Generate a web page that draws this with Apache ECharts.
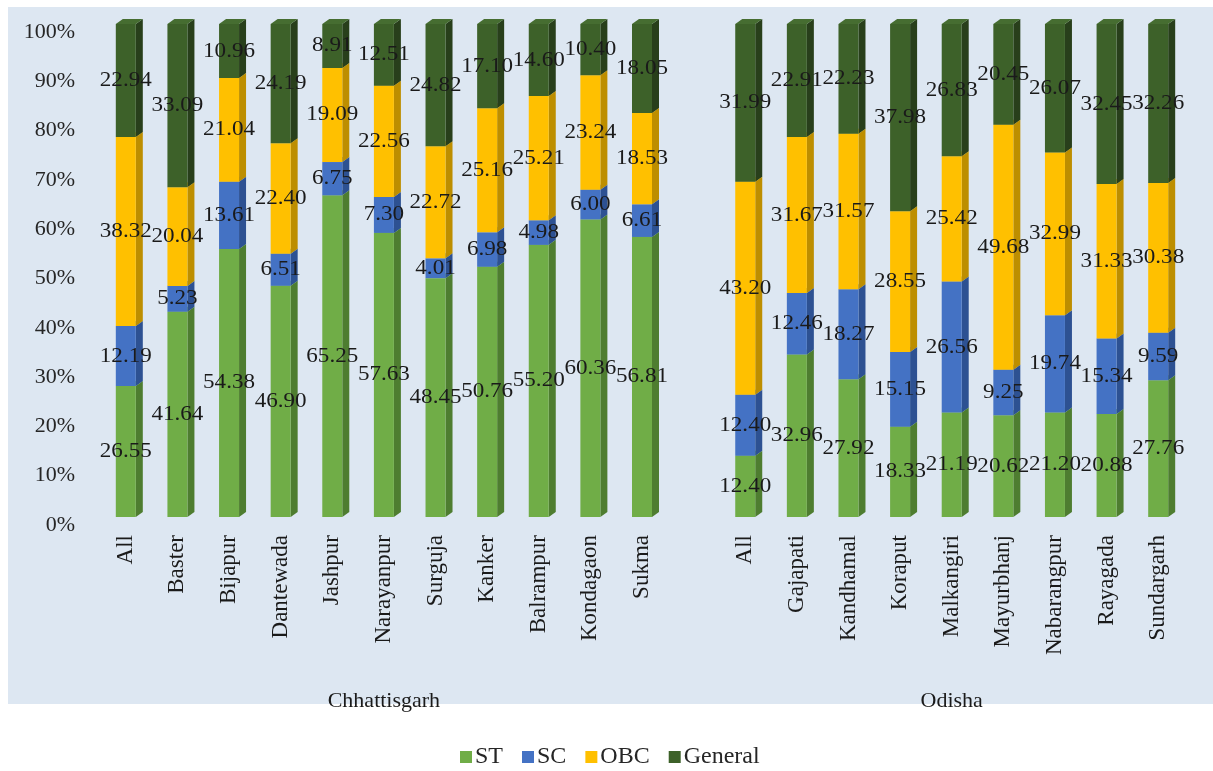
<!DOCTYPE html>
<html>
<head>
<meta charset="utf-8">
<script src="https://cdn.jsdelivr.net/npm/echarts@6/dist/echarts.min.js"></script>
<style>
  html, body { margin: 0; padding: 0; background: #fff; }
  #chart { width: 1213px; height: 771px; }
</style>
</head>
<body>
<div id="chart"></div>
<script>
// districts, with one empty slot between the two states
var districts = ['All', 'Baster', 'Bijapur', 'Dantewada', 'Jashpur', 'Narayanpur', 'Surguja', 'Kanker', 'Balrampur', 'Kondagaon', 'Sukma', '',
  'All', 'Gajapati', 'Kandhamal', 'Koraput', 'Malkangiri', 'Mayurbhanj', 'Nabarangpur', 'Rayagada', 'Sundargarh'];
var stateLabels = ['', '', '', '', '', 'Chhattisgarh', '', '', '', '', '', '',
  '', '', '', '', 'Odisha', '', '', '', ''];

var ST      = [26.55, 41.64, 54.38, 46.90, 65.25, 57.63, 48.45, 50.76, 55.20, 60.36, 56.81, null, 12.40, 32.96, 27.92, 18.33, 21.19, 20.62, 21.20, 20.88, 27.76];
var SC      = [12.19, 5.23, 13.61, 6.51, 6.75, 7.30, 4.01, 6.98, 4.98, 6.00, 6.61, null, 12.40, 12.46, 18.27, 15.15, 26.56, 9.25, 19.74, 15.34, 9.59];
var OBC     = [38.32, 20.04, 21.04, 22.40, 19.09, 22.56, 22.72, 25.16, 25.21, 23.24, 18.53, null, 43.20, 31.67, 31.57, 28.55, 25.42, 49.68, 32.99, 31.33, 30.38];
var General = [22.94, 33.09, 10.96, 24.19, 8.91, 12.51, 24.82, 17.10, 14.60, 10.40, 18.05, null, 31.99, 22.91, 22.23, 37.98, 26.83, 20.45, 26.07, 32.45, 32.26];

var seriesNames = ['ST', 'SC', 'OBC', 'General'];
var seriesValues = [ST, SC, OBC, General];

var faceColors = ['#70ad47', '#4472c4', '#ffc000', '#3d6129'];
var sideColors = ['#4e7d30', '#2d5192', '#bd8e00', '#283f1b'];
var topColors  = ['#80bb58', '#5683cf', '#ffca2b', '#466d31'];

var serif = '"Liberation Serif", "Times New Roman", serif';
var chart = echarts.init(document.getElementById('chart'));

// stack segments: [index, start, end]
function stackData(k) {
  var out = [];
  for (var i = 0; i < districts.length; i++) {
    var v = seriesValues[k][i];
    if (v == null) continue;
    var base = 0;
    for (var j = 0; j < k; j++) base += seriesValues[j][i];
    out.push([i, base, base + v]);
  }
  return out;
}

var labelData = [];
for (var k = 0; k < seriesValues.length; k++) {
  for (var i = 0; i < districts.length; i++) {
    var v = seriesValues[k][i];
    if (v == null) continue;
    var base = 0;
    for (var j = 0; j < k; j++) base += seriesValues[j][i];
    labelData.push([i, base + v / 2, v.toFixed(2)]);
  }
}

function renderBox(k) {
  return function (params, api) {
    var bot = api.coord([api.value(0), api.value(1)]);
    var top = api.coord([api.value(0), api.value(2)]);
    var half = 10, dx = 7, dy = 5;
    var l = bot[0] - half, r = bot[0] + half;
    return {
      type: 'group',
      children: [
        { type: 'polygon', shape: { points: [[r, bot[1]], [r + dx, bot[1] - dy], [r + dx, top[1] - dy], [r, top[1]]] }, style: { fill: sideColors[k] } },
        { type: 'polygon', shape: { points: [[l, top[1]], [l + dx, top[1] - dy], [r + dx, top[1] - dy], [r, top[1]]] }, style: { fill: topColors[k] } },
        { type: 'rect', shape: { x: l, y: top[1], width: r - l, height: bot[1] - top[1] }, style: { fill: faceColors[k] } }
      ]
    };
  };
}

function renderLabel(params, api) {
  var p = api.coord([api.value(0), api.value(1)]);
  return {
    type: 'text',
    x: p[0], y: p[1],
    scaleX: 1.1,
    style: {
      text: labelData[params.dataIndex][2],
      fontFamily: serif, fontSize: 21, fill: '#1a1a1a',
      align: 'center', verticalAlign: 'middle'
    }
  };
}

var series = seriesNames.map(function (name, k) {
  return {
    name: name,
    type: 'custom',
    renderItem: renderBox(k),
    itemStyle: { color: faceColors[k] },
    encode: { x: 0, y: [1, 2] },
    data: stackData(k)
  };
});
series.push({
  name: 'labels',
  type: 'custom',
  z: 10,
  silent: true,
  renderItem: renderLabel,
  encode: { x: 0, y: 1 },
  data: labelData
});

option = {
  animation: false,
  graphic: [{
    type: 'rect', z: -10, silent: true,
    shape: { x: 8, y: 7, width: 1205, height: 697 },
    style: { fill: '#dde7f2' }
  }],
  grid: { left: 100, right: 29, top: 24, bottom: 254 },
  legend: {
    data: seriesNames,
    bottom: -3,
    left: 455,
    icon: 'rect',
    itemWidth: 12,
    itemHeight: 12,
    itemGap: 19,
    textStyle: { fontFamily: serif, fontSize: 24, color: '#262626', padding: [0, 0, 0, -2] }
  },
  xAxis: [{
    type: 'category',
    data: districts,
    axisLine: { show: false },
    axisTick: { show: false },
    axisLabel: {
      interval: 0, rotate: 90, margin: 18,
      fontFamily: serif, fontSize: 23, color: '#1a1a1a'
    }
  }, {
    type: 'category',
    data: stateLabels,
    position: 'bottom',
    axisLine: { show: false },
    axisTick: { show: false },
    axisLabel: {
      interval: 0, margin: 173,
      fontFamily: serif, fontSize: 22, color: '#1a1a1a'
    }
  }],
  yAxis: {
    type: 'value',
    min: 0,
    max: 100,
    interval: 10,
    splitLine: { show: false },
    axisLine: { show: false },
    axisTick: { show: false },
    axisLabel: {
      formatter: '{value}%',
      margin: 25,
      verticalAlign: 'top',
      lineHeight: 16,
      fontFamily: serif, fontSize: 22, color: '#262626'
    }
  },
  series: series
};

chart.setOption(option);
</script>
</body>
</html>
